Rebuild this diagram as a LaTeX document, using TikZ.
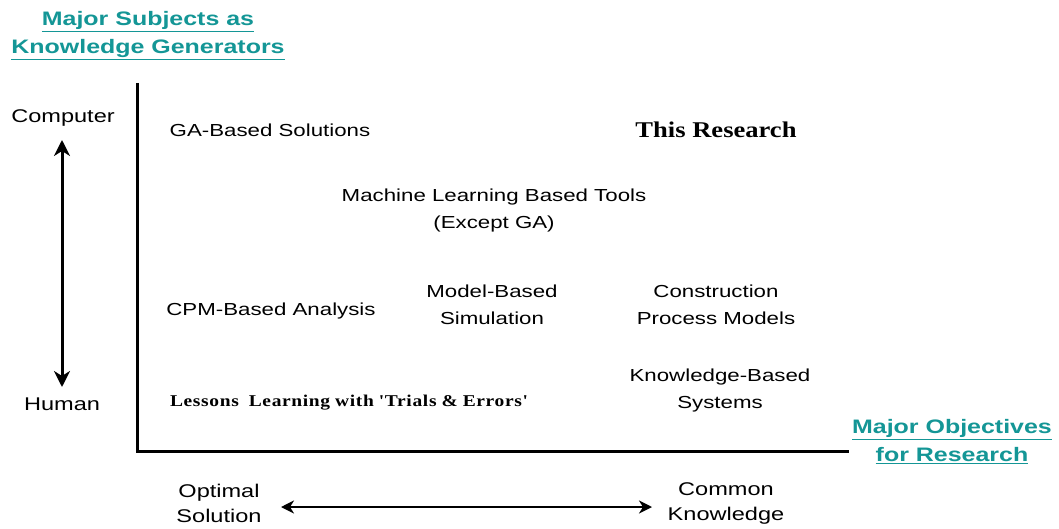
\documentclass[tikz,border=0pt]{standalone}
\usepackage{fontspec}
\setmainfont{Liberation Sans}[FakeStretch=1.28]
\newfontfamily\tms{Liberation Serif}[FakeStretch=1.18]
\usetikzlibrary{arrows.meta}
\definecolor{headteal}{RGB}{20,150,150}
\begin{document}
\begin{tikzpicture}[x=1pt,y=-1pt,
  lbl/.style={inner sep=0pt,align=center,font=\fontsize{17.4}{27}\selectfont},
  axislbl/.style={inner sep=0pt,align=center,font=\fontsize{18.4}{25}\selectfont},
  serifbold/.style={inner sep=0pt,font=\tms\bfseries\fontsize{22.5}{24}\selectfont},
  heading/.style={inner sep=0pt,align=center,text=headteal,
    font=\bfseries\fontsize{19.5}{28}\selectfont},
  axis/.style={line width=3pt},
  bigarrow/.style={line width=3pt,{Stealth[length=16pt,width=16pt,inset=5pt]}-{Stealth[length=16pt,width=16pt,inset=5pt]}},
  smallarrow/.style={line width=2pt,{Stealth[length=13pt,width=13pt,inset=4pt]}-{Stealth[length=13pt,width=13pt,inset=4pt]}}]
\useasboundingbox (0,0) rectangle (1059,529);

% axes of the chart
\coordinate (ytop) at (137.5,83);
\coordinate (origin) at (137.5,451);
\coordinate (xend) at (849,451);
\draw[axis] (ytop) -- (origin) -- (xend);

% headings
\node[heading] (subj) at (148,36) {\underline{Major Subjects as}\\\underline{Knowledge Generators}};
\node[heading] (obj) at (952,442) {\underline{Major Objectives}\\\underline{for Research}};

% vertical scale
\node[axislbl] (comp) at (63,118) {Computer};
\node[axislbl] (hum) at (62,404) {Human};
\coordinate (vtop) at (62,140);
\coordinate (vbot) at (62,387);
\draw[bigarrow] (vtop) -- (vbot);

% horizontal scale
\node[axislbl] (opt) at (219,503.5) {Optimal\\Solution};
\node[axislbl] (comm) at (726,503.5) {Common\\Knowledge};
\coordinate (hleft) at (281,507);
\coordinate (hright) at (652,507);
\draw[smallarrow] (hleft) -- (hright);

% research approaches
\node[lbl] (ga) at (270,130) {GA-Based Solutions};
\node[serifbold] (this) at (716,130) {This Research};
\node[lbl] (ml) at (494,210.5) {Machine Learning Based Tools\\(Except GA)};
\node[lbl] (cpm) at (271,311) {CPM-Based Analysis};
\node[lbl] (msim) at (492,304.5) {Model-Based\\Simulation};
\node[lbl] (cpmod) at (716,304.5) {Construction\\Process Models};
\node[lbl] (kbs) at (720,390.5) {Knowledge-Based\\Systems};
\node[serifbold,font=\tms\bfseries\fontsize{16.5}{20}\selectfont,text width=358pt,align=flush center]
  (less) at (349,403) {\addfontfeature{LetterSpace=4}Lessons\ \ Learning with 'Trials \& Errors'};
\end{tikzpicture}
\end{document}
